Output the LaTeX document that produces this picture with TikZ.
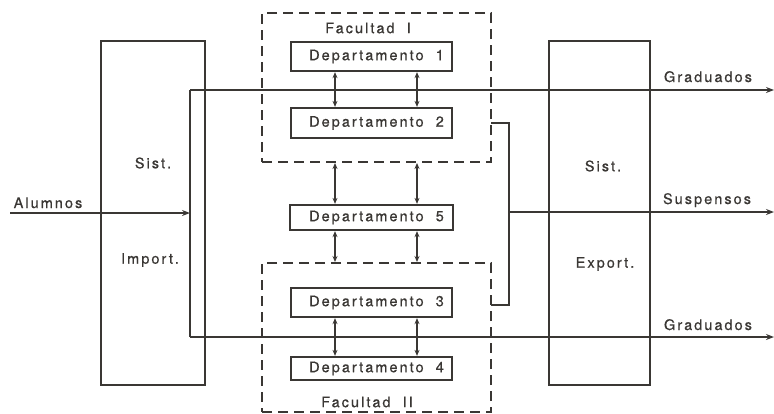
\documentclass[tikz,border=0pt]{standalone}
\usepackage{fontspec}
\setmainfont[LetterSpace=14,FakeBold=0.6]{TeX Gyre Heros}
\usetikzlibrary{arrows.meta}
\definecolor{ink}{HTML}{3A3734}
\newcommand{\deptname}[1]{\hspace{10pt}Departamento\ \ #1}
\begin{document}
\begin{tikzpicture}[x=1pt,y=-1pt,
  every node/.style={text=ink},
  line/.style={draw=ink,line width=2.3pt},
  dept/.style={draw=ink,line width=2.3pt,minimum width=161pt,inner sep=0pt,font=\fontsize{14.5}{16}\selectfont},
  fac/.style={draw=ink,line width=2pt,dash pattern=on 10pt off 6pt},
  sysbox/.style={draw=ink,line width=2.3pt},
  lbl/.style={font=\fontsize{14.5}{16}\selectfont,inner sep=0pt},
  tip/.style={-{Stealth[length=8pt,width=6pt]}},
  link/.style={draw=ink,line width=1.5pt,{Stealth[length=6pt,width=5pt]}-{Stealth[length=6pt,width=5pt]}}]
\useasboundingbox (0,0) rectangle (774,413);

% system boxes
\node[sysbox,minimum width=104pt,minimum height=344pt,inner sep=0pt] (imp) at (153,213) {};
\node[sysbox,minimum width=101pt,minimum height=344pt,inner sep=0pt] (exp) at (599.5,213) {};
\node[lbl] (impa) at (153,163) {Sist.};
\node[lbl] (impb) at (150,260) {Import.};
\node[lbl] (expa) at (603,166) {Sist.};
\node[lbl] (expb) at (605,264) {Export.};

% faculties
\node[fac,minimum width=229pt,minimum height=149pt,inner sep=0pt] (fac1) at (376.5,87.5) {};
\node[fac,minimum width=229pt,minimum height=149pt,inner sep=0pt] (fac2) at (376.5,337.5) {};
\node[lbl] (fac1t) at (368,28) {Facultad\ \ I};
\node[lbl] (fac2t) at (367,402) {Facultad\ \ II};

% departments
\node[dept,minimum height=29pt] (d1) at (371.5,56.5) {\deptname{1}};
\node[dept,minimum height=30pt] (d2) at (371.5,123) {\deptname{2}};
\node[dept,minimum height=25pt,minimum width=163pt] (d5) at (371.5,217.5) {\deptname{5}};
\node[dept,minimum height=29pt] (d3) at (371.5,302.5) {\deptname{3}};
\node[dept,minimum height=23pt] (d4) at (371.5,368.5) {\deptname{4}};

% links between departments, on two vertical lanes
\coordinate (la) at (335,0);
\coordinate (lb) at (417,0);
\foreach \l in {la,lb}{
  \draw[link] (\l |- d1.south) -- (\l |- d2.north);
  \draw[link] (\l |- fac1.south) -- (\l |- d5.north);
  \draw[link] (\l |- d5.south) -- (\l |- fac2.north);
  \draw[link] (\l |- d3.south) -- (\l |- d4.north);
}

% flows
\coordinate (ain) at (10,213);
\coordinate (bl) at (190,213);
\coordinate (bt) at (190,90);
\coordinate (bb) at (190,337);
\coordinate (g1) at (774,90);
\coordinate (g2) at (774,337);
\coordinate (s1) at (774,212);
\coordinate (r2) at (491,123);
\coordinate (r3) at (491,305);
\coordinate (rm) at (509,212);

\draw[line,tip] (ain) -- (bl);
\draw[line] (bt) -- (bb);
\draw[line,tip] (bt) -- (g1);
\draw[line,tip] (bb) -- (g2);
\draw[line] (r2) -| (rm) |- (r3);
\draw[line,tip] (rm) -- (s1);

\node[lbl,anchor=base] (alum) at (48,208) {Alumnos};
\node[lbl,anchor=base] (grad1) at (708,82) {Graduados};
\node[lbl,anchor=base] (susp) at (707,204) {Suspensos};
\node[lbl,anchor=base] (grad2) at (708,330) {Graduados};
\end{tikzpicture}
\end{document}
